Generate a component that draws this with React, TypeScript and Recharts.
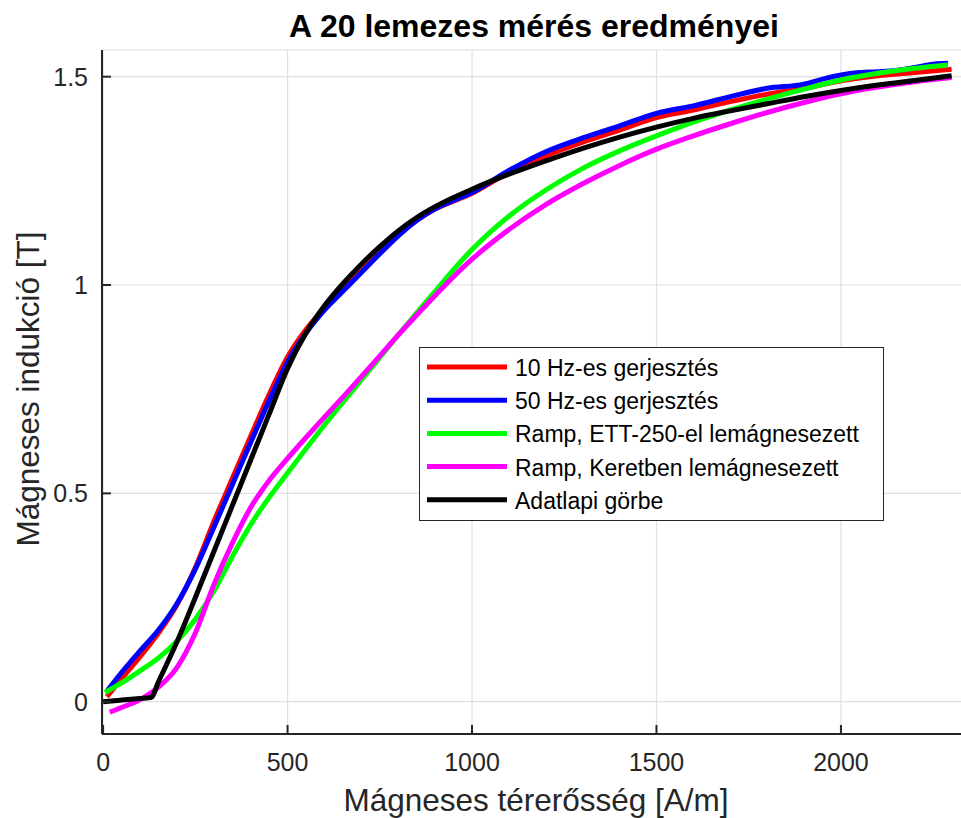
import React from 'react';
import { LineChart, Line, XAxis, YAxis, CartesianGrid } from 'recharts';

// Magnetising field H [A/m] and induction B [T]
const H_RED = [10, 50, 100, 150, 200, 250, 300, 350, 400, 450, 500, 550, 600, 650, 700, 750, 800, 850, 900, 1000, 1100, 1200, 1300, 1400, 1500, 1600, 1700, 1800, 1900, 2000, 2100, 2200, 2300];
const B_RED = [0.012, 0.055, 0.108, 0.165, 0.232, 0.322, 0.432, 0.535, 0.637, 0.737, 0.827, 0.893, 0.943, 0.988, 1.033, 1.078, 1.12, 1.155, 1.182, 1.22, 1.27, 1.31, 1.343, 1.372, 1.402, 1.42, 1.44, 1.458, 1.472, 1.49, 1.502, 1.51, 1.518];

const H_BLUE = [10, 50, 100, 150, 200, 250, 300, 350, 400, 450, 500, 550, 600, 650, 700, 750, 800, 850, 900, 950, 1000, 1100, 1200, 1300, 1400, 1500, 1600, 1700, 1800, 1900, 1950, 2000, 2050, 2100, 2150, 2200, 2250, 2290];
const B_BLUE = [0.025, 0.07, 0.122, 0.172, 0.235, 0.318, 0.418, 0.52, 0.622, 0.722, 0.815, 0.885, 0.94, 0.985, 1.03, 1.075, 1.118, 1.155, 1.183, 1.203, 1.222, 1.275, 1.32, 1.353, 1.382, 1.412, 1.43, 1.452, 1.472, 1.482, 1.494, 1.504, 1.51, 1.512, 1.515, 1.522, 1.53, 1.532];

const H_GREEN = [5, 50, 100, 150, 200, 250, 300, 350, 400, 450, 500, 550, 600, 650, 700, 750, 800, 850, 900, 950, 1000, 1100, 1200, 1300, 1400, 1500, 1600, 1700, 1800, 1900, 2000, 2100, 2200, 2290];
const B_GREEN = [0.022, 0.045, 0.074, 0.105, 0.145, 0.198, 0.265, 0.348, 0.425, 0.49, 0.549, 0.607, 0.664, 0.719, 0.772, 0.826, 0.88, 0.933, 0.985, 1.037, 1.085, 1.165, 1.228, 1.28, 1.322, 1.358, 1.391, 1.42, 1.446, 1.47, 1.492, 1.508, 1.52, 1.528];

const H_MAGENTA = [18, 50, 100, 150, 200, 250, 300, 350, 400, 450, 500, 550, 600, 650, 700, 750, 800, 850, 900, 950, 1000, 1100, 1200, 1300, 1400, 1500, 1600, 1700, 1800, 1900, 2000, 2100, 2200, 2300];
const B_MAGENTA = [-0.025, -0.014, 0.005, 0.035, 0.082, 0.165, 0.28, 0.38, 0.466, 0.531, 0.584, 0.634, 0.683, 0.731, 0.78, 0.83, 0.88, 0.928, 0.975, 1.02, 1.062, 1.133, 1.193, 1.243, 1.287, 1.326, 1.358, 1.387, 1.414, 1.438, 1.459, 1.475, 1.488, 1.498];

const H_BLACK = [0, 50, 100, 130, 150, 200, 250, 300, 350, 400, 450, 500, 550, 600, 650, 700, 750, 800, 850, 900, 950, 1000, 1100, 1200, 1300, 1400, 1500, 1600, 1700, 1800, 1900, 2000, 2100, 2200, 2300];
const B_BLACK = [0, 0.004, 0.008, 0.01, 0.048, 0.143, 0.25, 0.36, 0.47, 0.58, 0.69, 0.8, 0.885, 0.95, 1.003, 1.05, 1.092, 1.13, 1.162, 1.188, 1.21, 1.23, 1.266, 1.298, 1.328, 1.355, 1.379, 1.4, 1.418, 1.435, 1.452, 1.467, 1.48, 1.491, 1.502];

const X_TICKS = [0, 500, 1000, 1500, 2000];
const Y_TICKS = [0, 0.5, 1, 1.5];

const SERIES = [
  { name: '10 Hz-es gerjesztés', color: '#ff0000', h: H_RED, b: B_RED },
  { name: '50 Hz-es gerjesztés', color: '#0000ff', h: H_BLUE, b: B_BLUE },
  { name: 'Ramp, ETT-250-el lemágnesezett', color: '#00ff00', h: H_GREEN, b: B_GREEN },
  { name: 'Ramp, Keretben lemágnesezett', color: '#ff00ff', h: H_MAGENTA, b: B_MAGENTA },
  { name: 'Adatlapi görbe', color: '#000000', h: H_BLACK, b: B_BLACK },
];

const FONT = '"Liberation Sans", Arial, Helvetica, sans-serif';
const INK = '#262626';
const TICK_LEN = 9;

const BottomTick = ({ x, y, payload }: any) => (
  <g>
    <line x1={x} x2={x} y1={y} y2={y - TICK_LEN} stroke={INK} strokeWidth={2} />
    <text x={x} y={y + 37} textAnchor="middle" fontSize={25} fontFamily={FONT} fill={INK}>
      {payload.value}
    </text>
  </g>
);

const TopTick = ({ x, y }: any) => (
  <line x1={x} x2={x} y1={y} y2={y + TICK_LEN} stroke={INK} strokeWidth={2} />
);

const LeftTick = ({ x, y, payload }: any) => (
  <g>
    <line x1={x} x2={x + TICK_LEN} y1={y} y2={y} stroke={INK} strokeWidth={2} />
    <text x={x - 14} y={y + 9} textAnchor="end" fontSize={25} fontFamily={FONT} fill={INK}>
      {String(payload.value)}
    </text>
  </g>
);

const RightTick = ({ x, y }: any) => (
  <line x1={x} x2={x - TICK_LEN} y1={y} y2={y} stroke={INK} strokeWidth={2} />
);

export default function App() {
  const xDomain = [-3, 2339];
  const yDomain = [-0.0775, 1.564];

  return (
    <div style={{ position: 'absolute', left: 0, top: 0, width: 961, height: 818, overflow: 'hidden', background: '#fff' }}>
      <LineChart width={980} height={818} margin={{ top: 50, right: 14, bottom: 0, left: 0 }}>
        <CartesianGrid xAxisId="bottom" yAxisId="left" stroke="#e0e0e0" strokeWidth={1.2} />
        <XAxis
          xAxisId="bottom"
          dataKey="h"
          type="number"
          domain={xDomain}
          ticks={X_TICKS}
          allowDataOverflow
          interval={0}
          height={84}
          tickSize={0}
          tickMargin={0}
          tickLine={false}
          tick={<BottomTick />}
          axisLine={{ stroke: INK, strokeWidth: 2 }}
        />
        <XAxis
          xAxisId="top"
          orientation="top"
          dataKey="h"
          type="number"
          domain={xDomain}
          ticks={X_TICKS}
          allowDataOverflow
          interval={0}
          height={0}
          tickSize={0}
          tickMargin={0}
          tickLine={false}
          tick={<TopTick />}
          axisLine={{ stroke: INK, strokeWidth: 2 }}
        />
        <YAxis
          yAxisId="left"
          type="number"
          domain={yDomain}
          ticks={Y_TICKS}
          allowDataOverflow
          interval={0}
          width={102}
          tickSize={0}
          tickMargin={0}
          tickLine={false}
          tick={<LeftTick />}
          axisLine={{ stroke: INK, strokeWidth: 2 }}
        />
        <YAxis
          yAxisId="right"
          orientation="right"
          type="number"
          domain={yDomain}
          ticks={Y_TICKS}
          allowDataOverflow
          interval={0}
          width={0}
          tickSize={0}
          tickMargin={0}
          tickLine={false}
          tick={<RightTick />}
          axisLine={{ stroke: INK, strokeWidth: 2 }}
        />
        {SERIES.map((s) => (
          <Line
            key={s.name}
            xAxisId="bottom"
            yAxisId="left"
            data={s.h.map((h, i) => ({ h, b: s.b[i] }))}
            dataKey="b"
            name={s.name}
            type="monotone"
            stroke={s.color}
            strokeWidth={5}
            dot={false}
            isAnimationActive={false}
          />
        ))}
      </LineChart>

      <svg
        width={961}
        height={818}
        style={{ position: 'absolute', left: 0, top: 0, pointerEvents: 'none' }}
        fontFamily={FONT}
      >
        <text x={534} y={37} textAnchor="middle" fontSize={32} fontWeight="bold" fill="#000">
          A 20 lemezes mérés eredményei
        </text>
        <text x={536} y={811} textAnchor="middle" fontSize={31.5} fill={INK}>
          Mágneses térerősség [A/m]
        </text>
        <text
          transform="translate(39,389) rotate(-90)"
          textAnchor="middle"
          fontSize={31.5}
          fill={INK}
        >
          Mágneses indukció [T]
        </text>

        <rect x={419.5} y={347.5} width={464} height={173} fill="#fff" stroke={INK} strokeWidth={1} />
        {SERIES.map((s, i) => {
          const ly = 367 + i * 33.2;
          return (
            <g key={s.name}>
              <line x1={427} x2={507} y1={ly} y2={ly} stroke={s.color} strokeWidth={5} />
              <text x={515} y={ly + 9} fontSize={23} fill="#000">
                {s.name}
              </text>
            </g>
          );
        })}
      </svg>
    </div>
  );
}
